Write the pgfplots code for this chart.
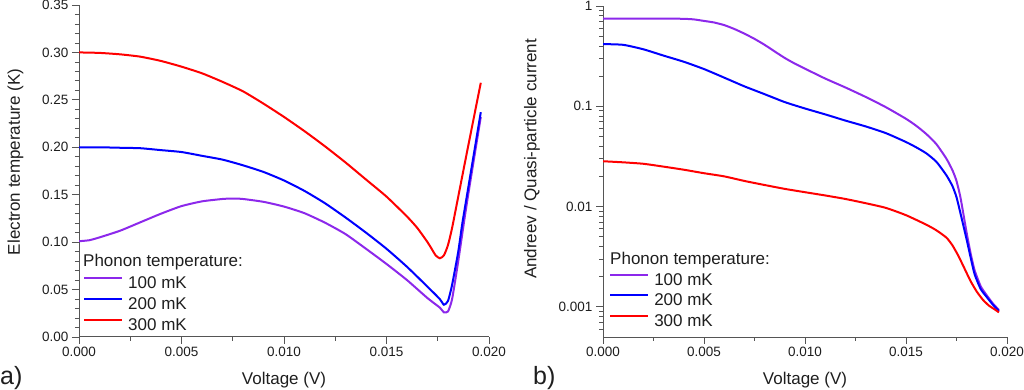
\documentclass[border=0pt]{standalone}
\usepackage{fontspec}
\setmainfont{Liberation Sans}
\usepackage{pgfplots}
\pgfplotsset{compat=1.18}
\definecolor{cpurple}{RGB}{140,40,235}
\definecolor{cblue}{RGB}{0,0,255}
\definecolor{cred}{RGB}{255,0,0}
\definecolor{axgray}{RGB}{85,85,85}
\definecolor{txt}{RGB}{30,30,30}

\pgfplotsset{
  myax/.style={
    scale only axis,
    axis x line*=bottom, axis y line*=left,
    axis line style={-, line width=1pt, color=axgray},
    tick align=outside,
    major tick length=7pt, minor tick length=4pt,
    every tick/.style={line width=0.9pt, color=axgray},
    every minor tick/.style={line width=0.8pt, color=axgray},
    ticklabel style={font=\fontsize{13.5}{15}\selectfont, text=txt},
    /pgf/number format/assume math mode=true,
    xmin=0, xmax=0.02,
    xtick={0,0.005,0.01,0.015,0.02},
    minor x tick num=1,
    scaled x ticks=false,
    xticklabel style={/pgf/number format/.cd, fixed, fixed zerofill, precision=3},
    legend cell align=left,
    legend image code/.code={\draw[#1, line width=2pt] (0pt,6pt) -- (38pt,6pt);},
    every axis plot/.append style={line width=2pt, smooth, tension=0.35},
  }
}

\begin{document}
\begin{tikzpicture}
\useasboundingbox (0pt,0pt) rectangle (1024pt,390pt);

% ---------------- left panel ----------------
\begin{axis}[myax,
  at={(79pt,53pt)}, anchor=south west,
  width=410pt, height=332pt,
  ymin=0, ymax=0.35,
  ytick={0,0.05,0.1,0.15,0.2,0.25,0.3,0.35},
  minor y tick num=4,
  scaled y ticks=false,
  yticklabel style={/pgf/number format/.cd, fixed, fixed zerofill, precision=2},
  legend style={draw=none, fill=none, at={(rel axis cs:0.0098,0.185)}, anchor=north west,
    font=\fontsize{17}{18}\selectfont, text=txt, inner sep=0pt, row sep=5pt, column sep=5pt,
    nodes={inner sep=0pt, text height=12.5pt, text depth=3.5pt}},
]
\addplot[cpurple] coordinates {
(0,0.101) (0.0005,0.102) (0.001,0.105) (0.002,0.112) (0.003,0.121) (0.004,0.130)
(0.005,0.138) (0.006,0.143) (0.007,0.1455) (0.0075,0.146) (0.008,0.1455) (0.009,0.1425)
(0.010,0.1375) (0.011,0.1305) (0.012,0.1205) (0.013,0.1085) (0.014,0.093) (0.015,0.077)
(0.016,0.060) (0.017,0.041) (0.0176,0.031) (0.0178,0.026) (0.0180,0.027) (0.0182,0.040)
(0.0185,0.080) (0.0188,0.124) (0.019,0.152) (0.0196,0.232)};
\addlegendentry{100 mK}
\addplot[cblue] coordinates {
(0,0.200) (0.001,0.200) (0.002,0.1995) (0.003,0.199) (0.004,0.197) (0.005,0.195)
(0.006,0.191) (0.007,0.187) (0.008,0.181) (0.009,0.174) (0.010,0.165) (0.011,0.154)
(0.012,0.141) (0.013,0.126) (0.014,0.110) (0.015,0.093) (0.016,0.074) (0.017,0.053)
(0.0176,0.040) (0.0178,0.034) (0.0180,0.038) (0.0182,0.055) (0.0185,0.090)
(0.0187,0.120) (0.019,0.159) (0.0196,0.237)};
\addlegendentry{200 mK}
\addplot[cred] coordinates {
(0,0.300) (0.001,0.2995) (0.002,0.298) (0.003,0.2955) (0.004,0.291) (0.005,0.285)
(0.006,0.278) (0.007,0.269) (0.008,0.259) (0.009,0.246) (0.010,0.232) (0.011,0.217)
(0.012,0.201) (0.013,0.184) (0.014,0.166) (0.015,0.148) (0.016,0.127) (0.0165,0.115)
(0.017,0.100) (0.0172,0.093) (0.0174,0.086) (0.0176,0.083) (0.0178,0.086)
(0.0180,0.097) (0.0182,0.115) (0.0185,0.148) (0.019,0.203) (0.0196,0.268)};
\addlegendentry{300 mK}
\end{axis}

% ---------------- right panel ----------------
\begin{axis}[myax,
  at={(603pt,53pt)}, anchor=south west,
  width=404pt, height=331pt,
  ymode=log, ymin=0.0005, ymax=1,
  ytick={0.001,0.01,0.1,1},
  yticklabels={0.001,0.01,0.1,1},
  minor ytick={0.0006,0.0007,0.0008,0.0009,0.002,0.003,0.004,0.005,0.006,0.007,0.008,0.009,
    0.02,0.03,0.04,0.05,0.06,0.07,0.08,0.09,0.2,0.3,0.4,0.5,0.6,0.7,0.8,0.9},
  legend style={draw=none, fill=none, at={(rel axis cs:0.015,0.195)}, anchor=north west,
    font=\fontsize{17}{18}\selectfont, text=txt, inner sep=0pt, row sep=4.5pt, column sep=5pt,
    nodes={inner sep=0pt, text height=12.5pt, text depth=3.5pt}},
]
\addplot[cpurple] coordinates {
(0,0.75) (0.001,0.75) (0.002,0.75) (0.003,0.75) (0.004,0.745) (0.0045,0.735)
(0.005,0.71) (0.0055,0.685) (0.006,0.645) (0.0065,0.59) (0.007,0.53) (0.0075,0.47)
(0.008,0.41) (0.0085,0.352) (0.009,0.303) (0.0095,0.266) (0.010,0.237) (0.011,0.189)
(0.012,0.154) (0.013,0.124) (0.014,0.098) (0.015,0.075) (0.0155,0.064) (0.016,0.053)
(0.0165,0.042) (0.017,0.030) (0.0173,0.023) (0.0175,0.018) (0.0177,0.0122)
(0.018,0.0055) (0.0182,0.0034) (0.0184,0.0023) (0.0187,0.0016) (0.019,0.0013)
(0.0193,0.00108) (0.0196,0.00093)};
\addlegendentry{100 mK}
\addplot[cblue] coordinates {
(0,0.417) (0.001,0.41) (0.002,0.37) (0.003,0.32) (0.004,0.278) (0.005,0.235)
(0.006,0.193) (0.007,0.158) (0.008,0.132) (0.009,0.110) (0.010,0.095) (0.011,0.083)
(0.012,0.072) (0.013,0.063) (0.014,0.054) (0.015,0.044) (0.0155,0.039) (0.016,0.034)
(0.0165,0.028) (0.017,0.0205) (0.0173,0.016) (0.0175,0.0124) (0.0177,0.0085)
(0.018,0.0047) (0.0182,0.0031) (0.0184,0.0021) (0.0187,0.0015) (0.019,0.00125)
(0.0193,0.00105) (0.0196,0.00091)};
\addlegendentry{200 mK}
\addplot[cred] coordinates {
(0,0.0283) (0.001,0.0276) (0.002,0.0267) (0.003,0.025) (0.004,0.0233) (0.005,0.0215)
(0.006,0.020) (0.007,0.018) (0.008,0.0164) (0.009,0.015) (0.010,0.0139) (0.011,0.0129)
(0.012,0.0119) (0.013,0.0108) (0.014,0.0097) (0.015,0.0082) (0.016,0.0066)
(0.0165,0.0058) (0.017,0.0049) (0.0173,0.0041) (0.0176,0.0032) (0.0179,0.0024)
(0.0182,0.0018) (0.0185,0.00142) (0.0188,0.00118) (0.0191,0.00103) (0.0194,0.00094)
(0.0196,0.00088)};
\addlegendentry{300 mK}
\end{axis}

% ---------------- texts ----------------
\node[anchor=base west, font=\fontsize{17}{18}\selectfont, text=txt, inner sep=0pt] at (83pt,123pt) {Phonon temperature:};
\node[anchor=base west, font=\fontsize{17}{18}\selectfont, text=txt, inner sep=0pt] at (610pt,125pt) {Phonon temperature:};
\node[anchor=base, font=\fontsize{17}{18}\selectfont, text=txt, inner sep=0pt] at (284pt,5pt) {Voltage (V)};
\node[anchor=base, font=\fontsize{17}{18}\selectfont, text=txt, inner sep=0pt] at (805pt,5pt) {Voltage (V)};
\node[rotate=90, font=\fontsize{17}{18}\selectfont, text=txt, inner sep=0pt] at (15.5pt,228pt) {Electron temperature (K)};
\node[rotate=90, font=\fontsize{17}{18}\selectfont, text=txt, inner sep=0pt] at (532pt,231pt) {Andreev / Quasi-particle current};
\node[anchor=base west, font=\fontsize{25}{27}\selectfont, text=txt, inner sep=0pt] at (0pt,5pt) {a)};
\node[anchor=base west, font=\fontsize{25}{27}\selectfont, text=txt, inner sep=0pt] at (533pt,5pt) {b)};
\end{tikzpicture}
\end{document}
